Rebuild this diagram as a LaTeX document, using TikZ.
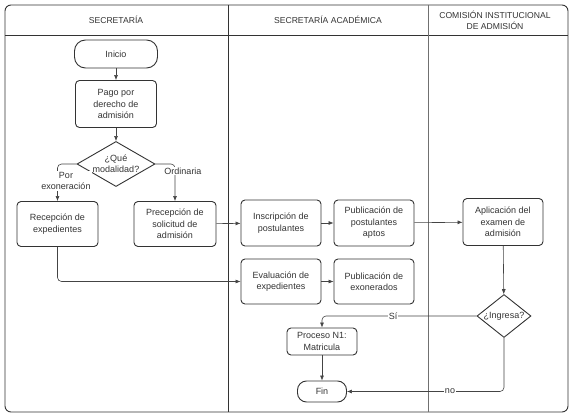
\documentclass[tikz,border=0pt]{standalone}
\usepackage{fontspec}
\setmainfont{Liberation Sans}
\usetikzlibrary{shapes.geometric,arrows.meta}
\definecolor{ink}{HTML}{333333}
\definecolor{edge}{HTML}{444444}
\tikzset{
  box/.style={draw=ink,line width=0.9pt,rounded corners=4pt,align=center,text=ink,inner sep=0pt,font=\fontsize{9}{11.5}\selectfont},
  term/.style={draw=ink,line width=0.9pt,rounded corners=11pt,align=center,text=ink,inner sep=0pt,font=\fontsize{9}{11.5}\selectfont},
  dec/.style={draw=ink,line width=0.9pt,diamond,aspect=1.7,align=center,text=ink,inner sep=0pt,font=\fontsize{9}{11}\selectfont},
  conn/.style={draw=edge,line width=0.6pt,-{Latex[length=5pt,width=4pt]},rounded corners=4pt},
  lbl/.style={fill=white,text=ink,inner sep=1pt,align=center,font=\fontsize{9}{11}\selectfont},
  hdr/.style={text=ink,align=center,font=\fontsize{8.6}{11}\selectfont}
}
\begin{document}
\begin{tikzpicture}[x=1pt,y=-1pt]
\useasboundingbox (0,0) rectangle (574,417);
% frame
\draw[ink,line width=0.9pt,rounded corners=6pt] (5,5) rectangle (568,412);
\draw[ink,line width=0.9pt] (5,35) -- (568,35);
\draw[ink,line width=0.9pt] (228,5) -- (228,412);
\draw[ink!70,line width=0.9pt] (428,5) -- (428,412);
\node[hdr] (h1) at (116,20) {SECRETARÍA};
\node[hdr] (h2) at (328,20) {SECRETARÍA ACADÉMICA};
\node[hdr] (h3) at (495,20) {COMISIÓN INSTITUCIONAL\\DE ADMISIÓN};
% nodes
\node[term,minimum width=83pt,minimum height=28pt] (ini) at (116,54) {Inicio};
\node[box,minimum width=81pt,minimum height=47pt] (pago) at (116,104) {Pago por\\derecho de\\admisión};
\node[dec,minimum width=78pt,minimum height=45pt] (mod) at (116,164) {¿Qué\\modalidad?};
\node[box,minimum width=81pt,minimum height=45pt] (rec) at (57.5,224) {Recepción de\\expedientes};
\node[box,minimum width=82pt,minimum height=45pt] (pre) at (175,224) {Precepción de\\solicitud de\\admisión};
\node[box,minimum width=80pt,minimum height=46pt] (ins) at (281,223) {Inscripción de\\postulantes};
\node[box,minimum width=80pt,minimum height=46pt] (pub) at (374,223) {Publicación de\\postulantes\\aptos};
\node[box,minimum width=80pt,minimum height=47pt] (apl) at (503,222) {Aplicación del\\examen de\\admisión};
\node[box,minimum width=80pt,minimum height=45pt] (eva) at (281,281.5) {Evaluación de\\expedientes};
\node[box,minimum width=80pt,minimum height=45pt] (pex) at (374,281.5) {Publicación de\\exonerados};
\node[dec,minimum width=54pt,minimum height=43pt,aspect=1.25] (ing) at (504,316) {¿Ingresa?};
\node[box,minimum width=70pt,minimum height=27pt] (pro) at (322,341.5) {Proceso N1:\\Matricula};
\node[term,minimum width=49pt,minimum height=21pt,rounded corners=9pt] (fin) at (322,391.5) {Fin};
% connectors
\draw[conn] (ini) -- (pago);
\draw[conn] (pago) -- (mod);
\draw[conn] (mod.west) -| (rec.north);
\node[lbl] (lpor) at (66,181) {Por\\exoneración};
\draw[conn] (mod.east) -| (pre.north);
\node[lbl] (lord) at (183,171) {Ordinaria};
\draw[conn] (pre) -- (ins);
\draw[conn] (ins) -- (pub);
\draw[conn] (pub) -- (apl);
\draw[conn] (rec.south) |- (eva.west);
\draw[conn] (eva) -- (pex);
\draw[conn] (apl) -- (ing);
\draw[conn] (ing.west) -| (pro.north);
\node[lbl] (lsi) at (393,316) {Sí};
\draw[conn] (pro) -- (fin);
\draw[conn] (ing.south) |- (fin.east);
\node[lbl] (lno) at (450,391.5) {no};
\end{tikzpicture}
\end{document}
